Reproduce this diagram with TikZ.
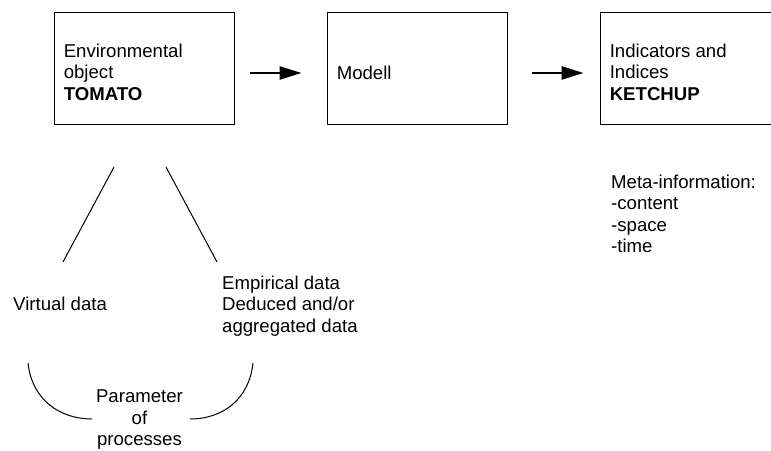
\documentclass[tikz,border=0pt]{standalone}
\usepackage{fontspec}
\setmainfont{Liberation Sans}
\usetikzlibrary{arrows.meta}

\tikzset{
	stagebox/.style={draw, line width=0.8pt, minimum width=180pt, minimum height=112pt, inner sep=0pt},
	boxtext/.style={align=left, inner sep=0pt, anchor=west},
	plaintext/.style={inner sep=0pt},
	flowarrow/.style={line width=2.5pt, -{Triangle[length=22pt,width=13pt]}},
	link/.style={line width=1pt}
}

\begin{document}
\begin{tikzpicture}[x=1pt, y=-1pt, font=\fontsize{18.6}{21.5}\selectfont]
			\useasboundingbox (0,0) rectangle (771,450);
			\clip (0,0) rectangle (771,450);

			% the three stages
			\foreach \name/\x in {object/144, modell/417, result/690}
				\node[stagebox] (\name) at (\x,68) {};

			\node[boxtext] (objecttxt) at ([xshift=10pt, yshift=-4pt]object.west) {Environmental\\object\\\textbf{TOMATO}};
			\node[boxtext] (modelltxt) at ([xshift=10pt, yshift=-5pt]modell.west) {Modell};
			\node[boxtext] (resulttxt) at ([xshift=10pt, yshift=-4pt]result.west) {Indicators and\\Indices\\\textbf{KETCHUP}};

			\draw[flowarrow, shorten <=16pt, shorten >=25pt] ([yshift=-5pt]object.east) -- ([yshift=-5pt]modell.west);
			\draw[flowarrow, shorten <=25pt, shorten >=16pt] ([yshift=-5pt]modell.east) -- ([yshift=-5pt]result.west);

			\node[plaintext, align=left, anchor=north west] (meta) at (611,174.7) {Meta-information:\\-content\\-space\\-time};

			% data below the object
			\node[plaintext, anchor=base west] (virtual) at (13,310) {Virtual data};
			\node[plaintext, align=left, anchor=north west] (empirical) at (222,275.7) {Empirical data\\Deduced and/or\\aggregated data};
			\node[plaintext, align=center, anchor=north] (param) at (139.5,389.7) {Parameter\\of\\processes};

			\coordinate (vtop) at (114,167);
			\coordinate (vend) at (63,262);
			\coordinate (etop) at (166,167);
			\coordinate (eend) at (217,262);
			\draw[link] (vtop) -- (vend);
			\draw[link] (etop) -- (eend);

			\coordinate (larc) at (28,363);
			\coordinate (lend) at (92,419);
			\coordinate (rarc) at (190,419);
			\coordinate (rend) at (253,363);
			\draw[link] (larc) .. controls (32,400) and (60,419) .. (lend);
			\draw[link] (rarc) .. controls (222,419) and (249,400) .. (rend);
\end{tikzpicture}
\end{document}
